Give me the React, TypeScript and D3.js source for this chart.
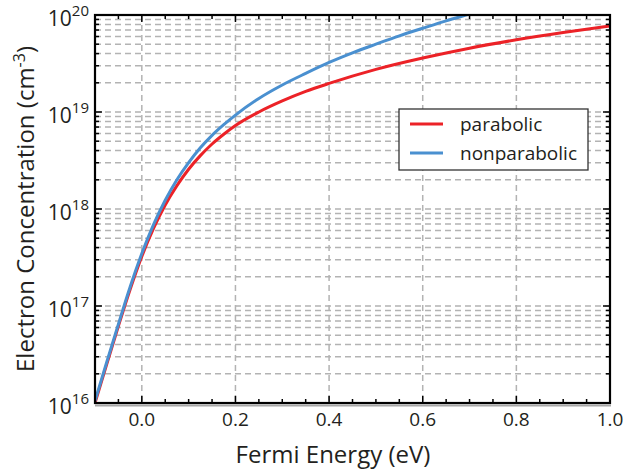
import React from "react";
import * as d3 from "d3";

const energyParabolic = [-0.1, -0.075, -0.05, -0.025, 0, 0.025, 0.05, 0.075, 0.1, 0.125, 0.15, 0.175, 0.2, 0.25, 0.3, 0.35, 0.4, 0.5, 0.6, 0.7, 0.8, 0.9, 1.0];
const parabolic = [1.0e16, 2.5e16, 6.2e16, 1.48e17, 3.24e17, 6.3e17, 1.1e18, 1.74e18, 2.57e18, 3.55e18, 4.68e18, 5.9e18, 7.25e18, 1.0e19, 1.3e19, 1.63e19, 1.97e19, 2.75e19, 3.6e19, 4.55e19, 5.55e19, 6.6e19, 7.7e19];

const energyNonparabolic = [-0.1, -0.075, -0.05, -0.025, 0, 0.025, 0.05, 0.075, 0.1, 0.125, 0.15, 0.175, 0.2, 0.25, 0.3, 0.35, 0.4, 0.45, 0.5, 0.55, 0.6, 0.65, 0.7, 0.75];
const nonparabolic = [1.05e16, 2.63e16, 6.5e16, 1.57e17, 3.47e17, 6.9e17, 1.23e18, 2.0e18, 3.0e18, 4.27e18, 5.75e18, 7.4e18, 9.3e18, 1.38e19, 1.9e19, 2.5e19, 3.24e19, 4.07e19, 5.0e19, 6.1e19, 7.3e19, 8.7e19, 1.02e20, 1.2e20];

const xTicks = [0, 0.2, 0.4, 0.6, 0.8, 1.0];
const xTickLabels = ["0.0", "0.2", "0.4", "0.6", "0.8", "1.0"];
const yExponents = [16, 17, 18, 19, 20];
const seriesNames = ["parabolic", "nonparabolic"];
const seriesColors = ["#ec2227", "#4a90d0"];

const W = 624, H = 475;
const L = 95, R = 610, T = 15, B = 403;
const FONT = "'Open Sans', 'DejaVu Sans', sans-serif";
const TXT = "#231f20";

export default function App() {
  const x = d3.scaleLinear().domain([-0.1, 1.0]).range([L, R]);
  const y = d3.scaleLog().domain([1e16, 1e20]).range([B, T]);

  const minorX = d3.range(-0.05, 1.0001, 0.05).map((v) => +v.toFixed(2));
  const isMajorX = (v: number) => Math.abs(v / 0.2 - Math.round(v / 0.2)) < 1e-6;

  const yMinor: number[] = [];
  for (let e = 16; e < 20; e++) for (let k = 2; k <= 9; k++) yMinor.push(k * Math.pow(10, e));
  const yMajor = yExponents.map((e) => Math.pow(10, e));

  const line = d3
    .line<[number, number]>()
    .x((d) => x(d[0]))
    .y((d) => y(d[1]))
    .curve(d3.curveMonotoneX);

  const dP = line(energyParabolic.map((e, i) => [e, parabolic[i]] as [number, number]))!;
  const dN = line(energyNonparabolic.map((e, i) => [e, nonparabolic[i]] as [number, number]))!;

  const grid = { stroke: "#b3b3b3", strokeWidth: 1.5, strokeDasharray: "6,4", fill: "none" };

  return (
    <svg width={W} height={H} style={{ display: "block", position: "absolute", left: 0, top: 0 }} fontFamily={FONT}>
      <rect x={0} y={0} width={W} height={H} fill="#fff" />
      <defs>
        <clipPath id="plot">
          <rect x={L} y={T} width={R - L} height={B - T} />
        </clipPath>
      </defs>
      {/* grid */}
      {[...yMinor, ...yMajor.slice(1, -1)].map((v, i) => (
        <line key={"gy" + i} x1={L} x2={R} y1={y(v)} y2={y(v)} {...grid} />
      ))}
      {xTicks.slice(0, -1).map((v, i) => (
        <line key={"gx" + i} x1={x(v)} x2={x(v)} y1={T} y2={B} {...grid} />
      ))}
      {/* curves */}
      <g clipPath="url(#plot)">
        <path d={dP} stroke={seriesColors[0]} strokeWidth={3} fill="none" />
        <path d={dN} stroke={seriesColors[1]} strokeWidth={3} fill="none" />
      </g>
      {/* ticks */}
      {minorX.map((v, i) => {
        const len = isMajorX(v) ? 7 : 4;
        return (
          <g key={"tx" + i} stroke="#000" strokeWidth={1.5}>
            <line x1={x(v)} x2={x(v)} y1={B} y2={B - len} />
            <line x1={x(v)} x2={x(v)} y1={T} y2={T + len} />
          </g>
        );
      })}
      {[...yMinor.map((v) => [v, 4]), ...yMajor.map((v) => [v, 7])].map(([v, len], i) => (
        <g key={"ty" + i} stroke="#000" strokeWidth={1.5}>
          <line x1={L} x2={L + len} y1={y(v)} y2={y(v)} />
          <line x1={R} x2={R - len} y1={y(v)} y2={y(v)} />
        </g>
      ))}
      {/* frame */}
      <line x1={L} x2={R + 1} y1={B + 2.5} y2={B + 2.5} stroke="#a7a7a7" strokeWidth={2} />
      <rect x={L} y={T} width={R - L} height={B - T} fill="none" stroke="#000" strokeWidth={2.2} />
      {/* x tick labels */}
      {xTicks.map((v, i) => (
        <text key={"xl" + i} x={x(v)} y={426} textAnchor="middle" fontSize={19} fill={TXT}>
          {xTickLabels[i]}
        </text>
      ))}
      {/* y tick labels */}
      {yExponents.map((e, i) => (
        <text key={"yl" + i} x={89} y={y(Math.pow(10, e)) + 11} textAnchor="end" fontSize={21} fill={TXT}>
          10
          <tspan fontSize={15} dy={-10}>
            {e}
          </tspan>
        </text>
      ))}
      {/* axis titles */}
      <text x={333} y={463} textAnchor="middle" fontSize={24} fill={TXT}>
        Fermi Energy (eV)
      </text>
      <text transform={`translate(34,${(T + B) / 2}) rotate(-90)`} textAnchor="middle" fontSize={24} fill={TXT}>
        Electron Concentration (cm
        <tspan fontSize={16} dy={-9}>-3</tspan>
        <tspan dy={9}>)</tspan>
      </text>
      {/* legend */}
      <rect x={399} y={109} width={189} height={61} fill="#fff" stroke="#333" strokeWidth={1.3} />
      {seriesNames.map((n, i) => (
        <g key={n}>
          <line x1={410} x2={443} y1={124 + i * 29} y2={124 + i * 29} stroke={seriesColors[i]} strokeWidth={3} />
          <text x={460} y={131 + i * 29} fontSize={19} fill={TXT}>
            {n}
          </text>
        </g>
      ))}
    </svg>
  );
}
